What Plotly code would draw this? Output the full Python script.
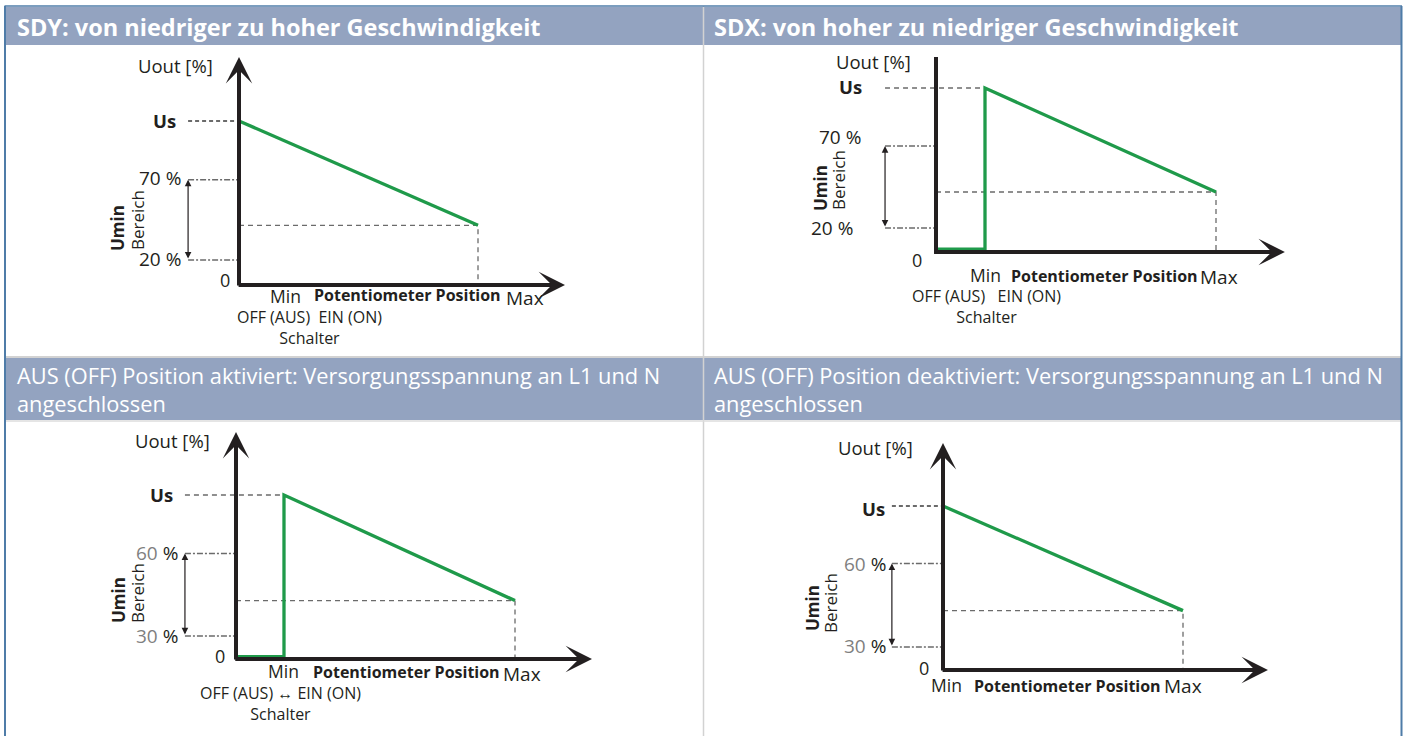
import plotly.graph_objects as go

W, H = 1407, 736

# ---------------- data (schematic values) ----------------
panel_titles = [
    "SDY: von niedriger zu hoher Geschwindigkeit",
    "SDX: von hoher zu niedriger Geschwindigkeit",
    "AUS (OFF) Position aktiviert: Versorgungsspannung an L1 und N<br>angeschlossen",
    "AUS (OFF) Position deaktiviert: Versorgungsspannung an L1 und N<br>angeschlossen",
]
title_bold = [True, True, False, False]
range_hi_labels = ["70 %", "70 %", "<span style='color:#7f7f7f'>60</span> %", "<span style='color:#7f7f7f'>60</span> %"]
range_lo_labels = ["20 %", "20 %", "<span style='color:#7f7f7f'>30</span> %", "<span style='color:#7f7f7f'>30</span> %"]
NB = "\u00a0"
switch_text = ["OFF (AUS)" + NB * 2 + "EIN (ON)<br>Schalter",
               "OFF (AUS)" + NB * 3 + "EIN (ON)<br>Schalter",
               "OFF (AUS) \u2194 EIN (ON)<br>Schalter",
               None]

pos_min = [0, 0, 0, 0]
pos_max = [100, 100, 100, 100]
switch_pos = [None, 17.5, 17.2, None]
us_level = [100, 100, 100, 100]
off_level = [None, 1.8, 1.5, None]
end_level = [36.4, 36.6, 35.6, 36.2]
hi_level = [64.2, 64.6, 64.4, 65.0]
lo_level = [15.2, 14.6, 14.1, 14.1]
bracket_pos = [-21.3, -18.2, -18.3, -21.3]
x_axis_end = [136.4, 124.6, 127.6, 135.4]
y_axis_end = [139.0, 118.9, 138.4, 138.4]
y_axis_arrow = [True, False, True, True]

# ---------------- layout constants ----------------
origin_px = [(239, 285), (936, 252), (236, 659), (943, 670)]
scale_x = [2.39, 2.80, 2.79, 2.40]
scale_y = [1.64, 1.64, 1.64, 1.64]

# label offsets (px relative to the panel origin)
label_pos = [
    dict(uout=(-64, 220), us=(-61, 165), hi=(-56, 107), lo=(-56, 26), zero=(-14, 5),
         mn=(46, -11), pp=(168, -10), mx=(286, -13), umin=(-122, 57), ber=(-102, 65),
         sw=(70, -42)),
    dict(uout=(-63, 191), us=(-72, 166), hi=(-73, 115), lo=(-81, 24), zero=(-19, -8),
         mn=(49, -23), pp=(168, -24), mx=(283, -25), umin=(-116, 64), ber=(-98, 72),
         sw=(50, -54)),
    dict(uout=(-64, 219), us=(-61, 165), hi=(-56, 106), lo=(-56, 23), zero=(-16, 3),
         mn=(47, -12), pp=(170, -13), mx=(286, -15), umin=(-118, 59), ber=(-99, 66),
         sw=(44, -44)),
    dict(uout=(-68, 223), us=(-56, 162), hi=(-55, 106), lo=(-55, 24), zero=(-19, 2),
         mn=(3, -15), pp=(124, -16), mx=(240, -16), umin=(-131, 62), ber=(-113, 67),
         sw=None),
]

GREEN = "#1f9a4a"
BLACK = "#231f20"
GREY = "#6b6b6b"
HEADER = "#93a3c0"
FONT = "Open Sans"

fig = go.Figure()
annotations = []
shapes = []


def px(x):
    return x / W


def py(y):
    return 1 - y / H


layout_axes = {}
for i in range(4):
    n = "" if i == 0 else str(i + 1)
    xa, ya = "x" + n, "y" + n
    ox, oy = origin_px[i]
    sx, sy = scale_x[i], scale_y[i]
    xr = [(0 - ox) / sx, (W - ox) / sx]
    yr = [(oy - H) / sy, oy / sy]
    xdict = dict(range=xr, domain=[0, 1], visible=False, fixedrange=True, anchor=ya)
    ydict = dict(range=yr, domain=[0, 1], visible=False, fixedrange=True, anchor=xa)
    if i > 0:
        xdict["overlaying"] = "x"
        ydict["overlaying"] = "y"
    layout_axes["xaxis" + n] = xdict
    layout_axes["yaxis" + n] = ydict

    us = us_level[i]
    # Us dashed guide
    us_dash_end = switch_pos[i] if switch_pos[i] is not None else pos_min[i]
    thick = switch_pos[i] is None
    fig.add_trace(go.Scatter(
        x=[bracket_pos[i], us_dash_end], y=[us, us], mode="lines", xaxis=xa, yaxis=ya,
        line=dict(color=GREY, width=2.2 if thick else 1.3, dash="4px,3px" if thick else "5px,4px"),
        hoverinfo="skip", showlegend=False))
    # range dash-dot guides
    for lv in (hi_level[i], lo_level[i]):
        fig.add_trace(go.Scatter(
            x=[bracket_pos[i], pos_min[i]], y=[lv, lv], mode="lines", xaxis=xa, yaxis=ya,
            line=dict(color=GREY, width=1.5, dash="6px,2px,2px,2px"),
            hoverinfo="skip", showlegend=False))
    # end level guides
    fig.add_trace(go.Scatter(
        x=[pos_min[i], pos_max[i], pos_max[i]], y=[end_level[i], end_level[i], 0],
        mode="lines", xaxis=xa, yaxis=ya,
        line=dict(color=GREY, width=1.3, dash="5px,4px"),
        hoverinfo="skip", showlegend=False))
    # green characteristic
    if switch_pos[i] is None:
        gx = [pos_min[i], pos_max[i]]
        gy = [us, end_level[i]]
    else:
        gx = [pos_min[i], switch_pos[i], switch_pos[i], pos_max[i]]
        gy = [off_level[i], off_level[i], us, end_level[i]]
    fig.add_trace(go.Scatter(
        x=gx, y=gy, mode="lines", xaxis=xa, yaxis=ya,
        line=dict(color=GREEN, width=3.3), hoverinfo="skip", showlegend=False))

    # axes
    annotations.append(dict(x=x_axis_end[i], y=0, ax=pos_min[i] - 0.8, ay=0, xref=xa, yref=ya,
                            axref=xa, ayref=ya, showarrow=True, text="", arrowhead=3,
                            arrowwidth=4, arrowsize=1.1, arrowcolor=BLACK))
    if y_axis_arrow[i]:
        annotations.append(dict(x=pos_min[i], y=y_axis_end[i], ax=pos_min[i], ay=-1.2, xref=xa,
                                yref=ya, axref=xa, ayref=ya, showarrow=True, text="",
                                arrowhead=3, arrowwidth=4, arrowsize=1.1, arrowcolor=BLACK))
    else:
        fig.add_trace(go.Scatter(
            x=[pos_min[i], pos_min[i]], y=[-1.2, y_axis_end[i]], mode="lines", xaxis=xa, yaxis=ya,
            line=dict(color=BLACK, width=4), hoverinfo="skip", showlegend=False))
    # range bracket double arrow
    annotations.append(dict(x=bracket_pos[i], y=hi_level[i], ax=bracket_pos[i], ay=lo_level[i],
                            xref=xa, yref=ya, axref=xa, ayref=ya, showarrow=True, text="",
                            arrowhead=2, arrowside="end+start", arrowwidth=1.2, arrowsize=1.1,
                            arrowcolor=BLACK))

    lp = label_pos[i]

    def lab(text, off, xanchor="center", size=15, angle=0, color=BLACK):
        annotations.append(dict(x=pos_min[i], y=0, xref=xa, yref=ya, text=text,
                                showarrow=False, xshift=off[0], yshift=off[1],
                                xanchor=xanchor, yanchor="middle", textangle=angle,
                                font=dict(family=FONT, size=size, color=color)))

    lab("Uout [%]", lp["uout"], size=18.5)
    lab("<b>Us</b>", lp["us"], xanchor="right", size=18.5)
    lab(range_hi_labels[i], lp["hi"], xanchor="right", size=19)
    lab(range_lo_labels[i], lp["lo"], xanchor="right", size=19)
    lab("0", lp["zero"], size=18)
    lab("Min", lp["mn"], size=17.5)
    lab("<b>Potentiometer Position</b>", lp["pp"], size=16)
    lab("Max", lp["mx"], size=19)
    lab("<b>Umin</b>", lp["umin"], size=17, angle=-90)
    lab("Bereich", lp["ber"], size=17, angle=-90)
    if switch_text[i]:
        lab(switch_text[i], lp["sw"], size=16)

# ---------------- frame & headers ----------------
header_boxes = [(6, 7, 703, 45), (704, 7, 1401, 45), (6, 358, 703, 420), (704, 358, 1401, 420)]
for (x0, y0, x1, y1) in header_boxes:
    shapes.append(dict(type="rect", xref="paper", yref="paper", x0=px(x0), x1=px(x1),
                       y0=py(y1), y1=py(y0), fillcolor=HEADER, line=dict(width=0), layer="below"))
# separators
shapes.append(dict(type="line", xref="paper", yref="paper", x0=px(703.5), x1=px(703.5),
                   y0=0, y1=py(6), line=dict(color="#d2d2d2", width=1.5)))
shapes.append(dict(type="line", xref="paper", yref="paper", x0=px(6), x1=px(1401),
                   y0=py(357), y1=py(357), line=dict(color="#d2d2d2", width=2)))
shapes.append(dict(type="line", xref="paper", yref="paper", x0=px(6), x1=px(1401),
                   y0=py(421), y1=py(421), line=dict(color="#dcdcdc", width=1.5)))
# outer border
BORDER = "#4f7ca8"
shapes.append(dict(type="line", xref="paper", yref="paper", x0=px(4.5), x1=px(1402),
                   y0=py(6), y1=py(6), line=dict(color=BORDER, width=1.5)))
shapes.append(dict(type="line", xref="paper", yref="paper", x0=px(5), x1=px(5),
                   y0=0, y1=py(6), line=dict(color=BORDER, width=2)))
shapes.append(dict(type="line", xref="paper", yref="paper", x0=px(1401.5), x1=px(1401.5),
                   y0=0, y1=py(6), line=dict(color=BORDER, width=2)))

title_pos = [(15, 27), (712, 27), (15, 389), (712, 389)]
for t, b, (tx, ty) in zip(panel_titles, title_bold, title_pos):
    annotations.append(dict(x=px(tx), y=py(ty), xref="paper", yref="paper",
                            text=f"<b>{t}</b>" if b else t, showarrow=False,
                            xanchor="left", yanchor="middle", align="left",
                            font=dict(family=FONT, size=23.5 if b else 21.8, color="white")))

fig.update_layout(
    width=W, height=H, margin=dict(l=0, r=0, t=0, b=0),
    paper_bgcolor="white", plot_bgcolor="white",
    shapes=shapes, annotations=annotations, showlegend=False,
    **layout_axes,
)
fig.write_html("out.html", config={"displayModeBar": False},
               post_script="document.body.style.margin='0';")
